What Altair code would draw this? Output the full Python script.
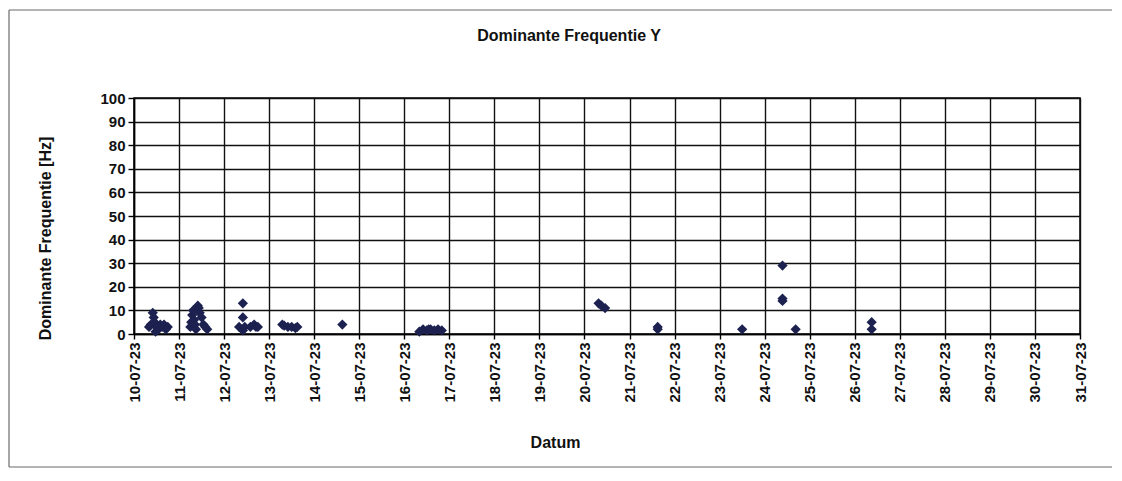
import altair as alt
import pandas as pd

# measurement times (UTC) and dominant frequency in Hz
times = [
    "2023-07-10T08:00", "2023-07-10T09:00", "2023-07-10T10:00", "2023-07-10T10:30",
    "2023-07-10T11:00", "2023-07-10T11:30", "2023-07-10T12:00", "2023-07-10T13:00",
    "2023-07-10T14:00", "2023-07-10T15:00", "2023-07-10T16:00", "2023-07-10T17:00",
    "2023-07-10T18:00",
    "2023-07-11T06:00", "2023-07-11T06:30", "2023-07-11T07:00", "2023-07-11T07:30",
    "2023-07-11T08:00", "2023-07-11T08:30", "2023-07-11T09:00", "2023-07-11T10:00",
    "2023-07-11T10:30", "2023-07-11T11:00", "2023-07-11T12:00", "2023-07-11T13:00",
    "2023-07-11T14:00", "2023-07-11T15:00",
    "2023-07-12T08:00", "2023-07-12T10:00", "2023-07-12T10:00", "2023-07-12T10:00",
    "2023-07-12T11:00", "2023-07-12T14:00", "2023-07-12T16:00", "2023-07-12T17:00",
    "2023-07-12T18:00",
    "2023-07-13T07:00", "2023-07-13T08:00", "2023-07-13T10:00", "2023-07-13T12:00",
    "2023-07-13T14:00", "2023-07-13T15:00",
    "2023-07-14T15:00",
    "2023-07-16T08:00", "2023-07-16T10:00", "2023-07-16T12:00", "2023-07-16T13:00",
    "2023-07-16T14:00", "2023-07-16T16:00", "2023-07-16T18:00", "2023-07-16T20:00",
    "2023-07-20T07:30", "2023-07-20T09:00", "2023-07-20T11:00",
    "2023-07-21T15:00", "2023-07-21T15:00",
    "2023-07-23T12:00",
    "2023-07-24T09:30", "2023-07-24T09:30", "2023-07-24T09:30",
    "2023-07-24T16:30",
    "2023-07-26T09:00", "2023-07-26T09:00",
]
freq = [
    3, 4, 9, 7,
    5, 1, 3, 2,
    4, 3, 4, 2,
    3,
    3, 5, 8, 10,
    6, 4, 2, 12,
    11, 9, 7, 4,
    3, 2,
    3, 13, 7, 1.5,
    3, 3, 4, 3,
    3,
    4, 3.5, 3, 3,
    2.5, 3,
    4,
    1, 2, 1.5, 2,
    2, 1.5, 2, 1.5,
    13, 12, 11,
    2, 3,
    2,
    29, 15, 14,
    2,
    5, 2,
]

tick_days = list(range(10, 32))
y_ticks = list(range(0, 101, 10))
chart_title = ["Dominante Frequentie Y"]

df = pd.DataFrame({"Datum": [t + ":00Z" for t in times], "Freq": freq})
title_df = pd.DataFrame({"label": chart_title})

PLOT_W, PLOT_H = 946, 236
PAD_L, PAD_T, PAD_R = 126, 90, 32
TOTAL_W, TOTAL_H = 1104, 460
PAD_B = TOTAL_H - PAD_T - PLOT_H

FONT = "Liberation Sans"

x_enc = alt.X(
    "Datum:T",
    scale=alt.Scale(
        type="utc",
        domain=[
            alt.DateTime(year=2023, month=7, date=10, utc=True),
            alt.DateTime(year=2023, month=7, date=31, utc=True),
        ],
    ),
    axis=alt.Axis(
        values=[alt.DateTime(year=2023, month=7, date=d, utc=True) for d in tick_days],
        labelExpr="utcFormat(datum.value, '%d-%m-%y')",
        labelAngle=270,
        labelAlign="right",
        labelBaseline="middle",
        labelPadding=3,
        tickSize=5,
        title="Datum",
        titleX=421,
        titleY=108,
        titleBaseline="middle",
        titleAlign="center",
    ),
)
y_enc = alt.Y(
    "Freq:Q",
    scale=alt.Scale(domain=[0, 100], nice=False),
    axis=alt.Axis(
        values=y_ticks,
        tickSize=6,
        labelPadding=3,
        title="Dominante Frequentie [Hz]",
        titleX=-89,
        titleY=140,
        titleAngle=270,
        titleAlign="center",
        titleBaseline="middle",
        titleLimit=500,
    ),
)

points = alt.Chart(df).mark_point(
    shape="diamond", filled=True, size=105, color="#1c2150", opacity=1
).encode(x=x_enc, y=y_enc)

frame_style = dict(color="#6a6a6a", strokeWidth=1.2, clip=False)
frame_top = alt.Chart(title_df).mark_rule(**frame_style).encode(
    x=alt.value(-125), x2=alt.value(978), y=alt.value(-88)
)
frame_left = alt.Chart(title_df).mark_rule(**frame_style).encode(
    x=alt.value(-125), y=alt.value(-88), y2=alt.value(369)
)
frame_bottom = alt.Chart(title_df).mark_rule(**frame_style).encode(
    x=alt.value(-125), x2=alt.value(978), y=alt.value(369)
)

title_text = alt.Chart(title_df).mark_text(
    font=FONT, fontSize=16, fontWeight="bold", color="#111111",
    align="center", baseline="alphabetic",
).encode(
    x=alt.value(435), y=alt.value(-57), text="label:N"
)

chart = (
    alt.layer(frame_top, frame_left, frame_bottom, points, title_text)
    .properties(
        width=PLOT_W,
        height=PLOT_H,
        autosize=alt.AutoSizeParams(type="none"),
        padding={"left": PAD_L, "top": PAD_T, "right": PAD_R, "bottom": PAD_B},
    )
    .configure_view(stroke="black", strokeWidth=1.5)
    .configure_axis(
        domainColor="black",
        domainWidth=1.5,
        grid=True,
        gridColor="#111111",
        gridWidth=1.4,
        gridOpacity=1,
        tickColor="black",
        tickWidth=1.4,
        labelColor="#111111",
        labelFont=FONT,
        labelFontSize=15,
        labelFontWeight="bold",
        titleColor="#111111",
        titleFont=FONT,
        titleFontSize=16,
        titleFontWeight="bold",
    )
)

chart.save("out.html", embed_options={"renderer": "svg", "actions": False})
